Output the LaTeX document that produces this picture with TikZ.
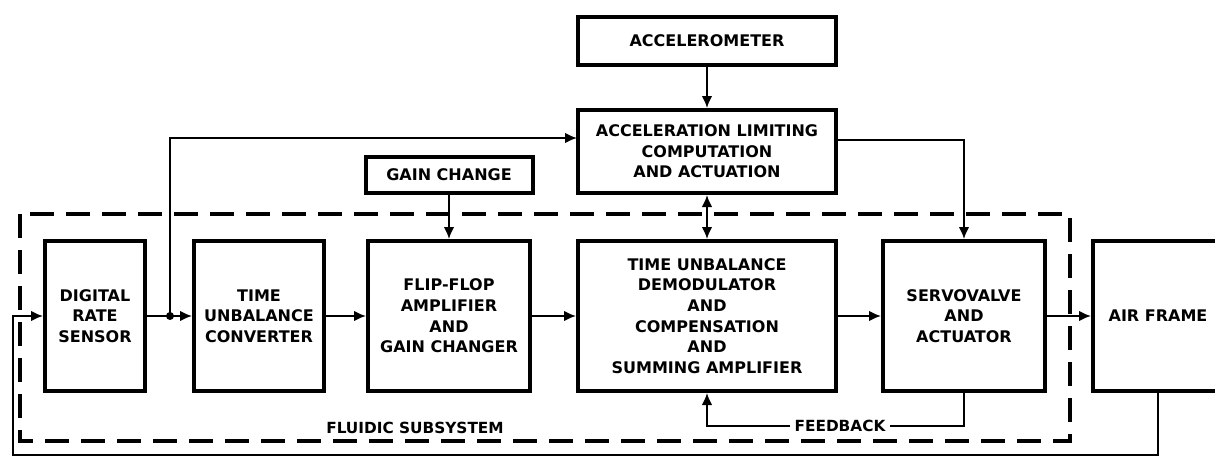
\documentclass[tikz,border=0pt]{standalone}
\usepackage{fontspec}
\setmainfont{DejaVu Sans}
\usetikzlibrary{arrows.meta,calc}
\begin{document}
\begin{tikzpicture}[x=0.75pt,y=-0.75pt,
  tip/.tip={Latex[length=9pt,width=8pt]},
  blk/.style={draw,line width=3pt,align=center,inner sep=2pt,font=\bfseries\fontsize{12}{15.5}\selectfont},
  conn/.style={line width=1.4pt,-tip},
  dconn/.style={line width=1.4pt,tip-tip},
  wire/.style={line width=1.4pt},
  lbl/.style={font=\bfseries\fontsize{11.5}{14}\selectfont,inner sep=3pt},
  subsys/.style={line width=2.5pt,dash pattern=on 18pt off 9pt}]
\useasboundingbox[fill=white] (0,0) rectangle (1215,458);

% fluidic subsystem boundary
\draw[subsys] (20,214) rectangle (1070,441);

% blocks
\node[blk,minimum width=193.5pt,minimum height=36pt] (acc) at (707,41) {ACCELEROMETER};
\node[blk,minimum width=193.5pt,minimum height=62.25pt] (alc) at (707,151.5) {ACCELERATION LIMITING\\COMPUTATION\\AND ACTUATION};
\node[blk,minimum width=125.25pt,minimum height=27pt] (gain) at (449,175) {GAIN CHANGE};
\node[blk,minimum width=75pt,minimum height=112.5pt] (drs) at (95,316) {DIGITAL\\RATE\\SENSOR};
\node[blk,minimum width=97.5pt,minimum height=112.5pt] (tuc) at (259,316) {TIME\\UNBALANCE\\CONVERTER};
\node[blk,minimum width=121.5pt,minimum height=112.5pt] (ffa) at (449,316) {FLIP-FLOP\\AMPLIFIER\\AND\\GAIN CHANGER};
\node[blk,minimum width=193.5pt,minimum height=112.5pt] (tud) at (707,316) {TIME UNBALANCE\\DEMODULATOR\\AND\\COMPENSATION\\AND\\SUMMING AMPLIFIER};
\node[blk,minimum width=121.5pt,minimum height=112.5pt] (sva) at (964,316) {SERVOVALVE\\AND\\ACTUATOR};
\node[blk,minimum width=97.5pt,minimum height=112.5pt] (air) at (1158,316) {AIR FRAME};

% labels
\node[lbl] (fluid) at (415,428) {FLUIDIC SUBSYSTEM};
\node[lbl] (fbl) at (840,426) {FEEDBACK};

% coordinates
\coordinate (j) at (170,316);
\coordinate (alcin) at (577,138);
\coordinate (alcout) at (837,140);
\coordinate (fbB) at (13,455);

% main chain
\draw[wire] (drs.east) -- (j);
\fill (j) circle (3pt);
\draw[conn] (j) -- (tuc.west);
\draw[conn] (tuc.east) -- (ffa.west);
\draw[conn] (ffa.east) -- (tud.west);
\draw[conn] (tud.east) -- (sva.west);
\draw[conn] (sva.east) -- (air.west);

% upper paths
\draw[conn] (j) |- (alcin);
\draw[conn] (alcout) -| (sva.north);
\draw[conn] (acc.south) -- (alc.north);
\draw[dconn] (alc.south) -- (tud.north);
\draw[conn] (gain.south) -- (ffa.north);

% feedback loops
\draw[conn] (air.south) |- (fbB) |- (drs.west);
\draw[wire] (sva.south) |- (fbl.east);
\draw[conn] (fbl.west) -| (tud.south);
\end{tikzpicture}
\end{document}
